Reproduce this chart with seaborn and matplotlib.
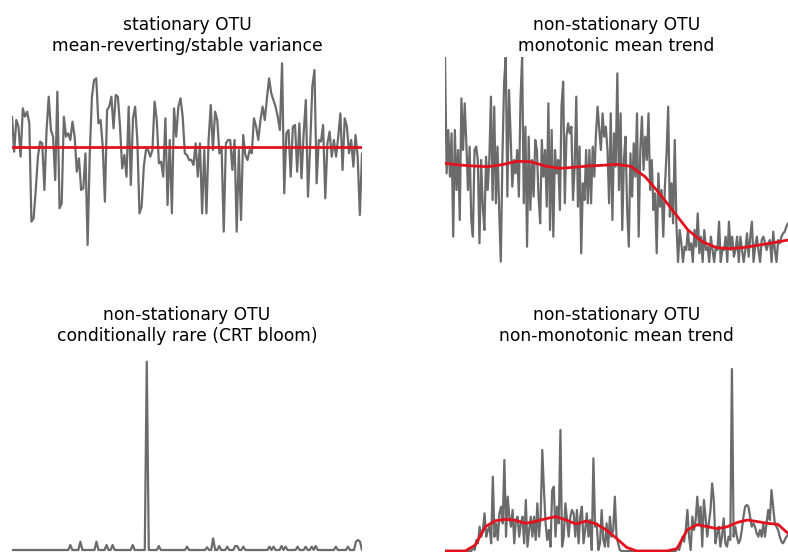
import matplotlib
matplotlib.use("Agg")
import matplotlib.pyplot as plt
import numpy as np
import seaborn as sns

# --- data (arbitrary abundance units) ---
stationary = [0.90, -0.15, 0.80, 0.60, -0.30, 1.15, 0.90, 1.05, 0.70, -2.25,
              -2.15, -1.30, -0.30, 0.15, 0.10, -1.30, 0.50, 1.50, 0.50, 0.30,
              -1.00, 1.65, -1.85, -1.70, 0.90, 0.30, 0.40, 0.20, 0.75, 0.30,
              -0.75, -0.35, -1.30, -1.25, -0.20, -2.95, -0.20, 1.50, 2.00, 2.05,
              0.70, 0.80, 0.00, -1.65, 1.10, 1.20, 1.50, 0.55, 1.55, 1.50,
              0.60, -0.65, -0.25, -0.90, 1.20, -1.15, 0.85, 1.20, 0.20, -2.00,
              -1.80, -0.60, -0.10, -0.10, -0.30, -0.10, 1.35, 0.80, -0.50, -0.45,
              -0.90, 0.85, -1.75, 0.20, -2.00, 1.15, 0.30, 1.20, 1.45, 0.90,
              -0.20, -0.25, -0.40, -0.40, -0.55, 0.10, -0.90, 0.10, -2.00, -0.10,
              -2.00, 0.20, 1.25, -0.10, 1.05, 0.80, -0.20, 0.00, -2.55, 0.10,
              0.20, 0.20, -0.70, 0.20, -2.55, -0.10, -2.20, 0.35, -0.25, -0.40,
              -0.10, -0.20, 0.85, 0.60, 0.20, 0.80, 1.20, 0.80, 1.45, 2.05,
              1.60, 1.40, 1.20, 0.90, 0.50, 2.50, -1.40, 0.40, 0.50, -0.90,
              0.60, 0.65, -0.75, 0.70, -0.95, 0.40, 1.40, -1.50, 0.00, 1.80,
              2.30, -1.10, 0.20, 0.15, 0.65, -1.55, 0.10, 0.45, -0.30, 0.20,
              -0.30, 0.30, 1.00, -0.70, 0.85, 0.60, -0.20, 0.20, -0.60, 0.35,
              -0.30, -2.05, -0.20]
stationary_mean = 0.0

monotonic = [6.16, 2.66, 3.96, 2.56, 3.86, 0.76, 3.96, 2.16, 3.36, 1.26,
             4.91, 3.36, 4.76, 3.56, 2.16, 3.46, 1.26, 0.76, 3.36, 3.46,
             3.06, 0.56, 3.06, 1.66, 0.96, 3.16, 2.16, 3.06, 4.96, 1.86,
             4.66, 1.76, 3.46, 1.56, 0.01, 3.16, 5.36, 6.16, 1.96, 5.16,
             3.76, 2.26, 3.06, 2.66, 3.36, 1.96, 4.86, 6.16, 1.76, 4.06,
             0.46, 3.76, 1.56, 3.06, 1.96, 3.66, 3.36, 1.96, 1.16, 3.66,
             2.56, 3.36, 1.66, 4.76, 0.96, 3.96, 0.76, 3.36, 2.66, 3.06,
             1.56, 4.66, 5.41, 1.76, 3.76, 4.16, 3.86, 4.06, 1.86, 2.86,
             4.96, 1.66, 3.46, 0.26, 2.36, 1.86, 3.36, 1.76, 3.36, 1.76,
             3.46, 2.56, 3.86, 4.66, 3.96, 3.36, 4.46, 3.76, 4.06,
             3.36, 1.76, 4.46, 1.26, 3.86, 2.86, 5.66, 2.16, 4.46, 0.96,
             3.06, 3.76, 1.56, 0.46, 3.26, 1.96, 3.56, 2.56, 4.46, 0.76,
             3.36, 4.36, 2.76, 3.76, 3.06, 4.46, 2.16, 3.06, 1.56, 2.06,
             0.26, 2.66, 1.66, 2.16, 0.76, 2.26, 3.26, 4.66, 1.36, 2.36,
             1.16, 3.66, 1.16, 0.00, 0.96, 0.56, 0.00, 0.46, 0.36, 0.96,
             0.36, 0.56, 0.00, 0.96, 0.46, 1.46, 0.26, 0.76, 0.00, 0.96,
             0.36, 0.46, 0.00, 0.76, 0.36, 0.00, 0.46, 0.36, 1.21, 0.00,
             0.36, 0.36, 0.76, 0.00, 1.21, 0.36, 0.76, 0.16, 0.36, 0.76,
             0.00, 0.76, 0.36, 0.00, 0.36, 0.86, 0.16, 0.76, 1.21, 0.00,
             0.46, 0.76, 0.36, 0.00, 0.66, 0.76, 0.56, 0.36, 0.56, 0.66,
             0.00, 0.91, 0.36, 0.00, 0.66, 0.56, 0.76, 0.86, 0.91, 1.06,
             1.16]
monotonic_trend = [2.96, 2.91, 2.88, 2.86, 2.92, 3.02, 3.01, 2.88, 2.81, 2.84,
                   2.88, 2.90, 2.93, 2.87, 2.56, 2.06, 1.51, 0.96, 0.61, 0.43,
                   0.40, 0.44, 0.51, 0.58, 0.66]

rare = [0, 0, 0, 0, 0, 0, 0, 0, 0, 0, 0, 0, 0, 0, 0, 0, 0, 0, 0, 0,
        0, 0, 0, 0, 0, 0, 0, 0, 0, 0.15, 0, 0, 0, 0, 0.25, 0, 0, 0, 0, 0,
        0, 0, 0.25, 0, 0, 0, 0, 0.15, 0, 0, 0.15, 0, 0, 0, 0, 0, 0, 0, 0, 0,
        0.15, 0, 0, 0, 0, 0, 0, 5.65, 0, 0, 0, 0, 0, 0.12, 0, 0, 0, 0, 0, 0,
        0, 0, 0, 0, 0, 0, 0, 0.10, 0, 0, 0, 0, 0, 0, 0, 0, 0, 0.08, 0, 0,
        0.35, 0, 0, 0.12, 0, 0, 0, 0.10, 0, 0, 0, 0.12, 0.12, 0, 0, 0.10, 0, 0, 0, 0,
        0, 0, 0, 0, 0, 0, 0, 0, 0.10, 0, 0.10, 0, 0, 0, 0.12, 0, 0.10, 0, 0, 0,
        0, 0, 0.10, 0, 0, 0, 0.10, 0, 0, 0.10, 0, 0.12, 0, 0, 0, 0, 0, 0, 0, 0,
        0, 0.10, 0, 0, 0, 0, 0, 0.10, 0, 0, 0, 0.25, 0.30, 0.25, 0]

nonmonotonic = [0, 0, 0, 0, 0, 0, 0, 0, 0, 0, 0, 0, 0, 0, 0, 0, 0,
                0.13, 0.03, 0.33, 0.23, 0.73, 0.43, 0.63, 1.13, 0.43, 0.63,
                0.73, 0.23, 2.23, 0.43, 0.83, 0.33, 1.13, 1.33, 0.83, 2.73,
                0.43, 1.63, 1.03, 0.73, 1.23, 0.23, 0.93, 1.03, 0.43, 0.83,
                1.03, 0.23, 1.53, 0.13, 0.63, 1.03, 0.43, 1.03, 0.33, 1.43,
                0.43, 1.03, 3.03, 1.83, 0.83, 0.33, 0.63, 0.13, 1.83, 1.93,
                0.43, 1.33, 0.83, 3.63, 0.13, 0.43, 1.43, 0.93, 0.43, 1.03,
                1.23, 1.13, 0.43, 1.23, 0.23, 1.03, 1.33, 0.23, 0.63, 1.13,
                0.43, 0.93, 0.03, 2.78, 0.73, 0.83, 0.03, 0.23, 1.23, 0.33,
                0.13, 0.83, 0.13,
                1.03, 0.43, 0.63, 1.63, 0.43, 0.23, 0.03,
                0, 0, 0, 0, 0, 0, 0, 0, 0, 0, 0, 0, 0, 0, 0, 0, 0,
                0, 0, 0, 0, 0, 0, 0, 0, 0, 0, 0, 0, 0, 0, 0, 0, 0,
                0.13, 0.03, 0.23, 0.43, 0.28, 0.63, 1.23, 0.43, 0.03, 1.03,
                0.63, 0.93, 1.63, 0.83, 1.33, 0.13, 1.53, 1.03, 0.43, 0.83,
                1.23, 2.03, 1.53, 0.23, 0.53, 0.73, 0.13, 0.43, 0.98, 0.23,
                0.13, 0.43, 0.33, 5.46, 0.43, 0.73, 0.43, 0.23, 0.33, 0.63,
                1.03, 1.33, 1.38, 1.33, 1.03, 0.73, 0.83, 0.73, 0.53, 0.43,
                0.63, 0.43, 0.83, 0.43, 0.83, 1.23, 0.93, 1.83, 1.33, 0.83,
                0.73, 0.63, 0.43, 0.28, 0.23, 0.33, 0.43, 0.48]
nonmonotonic_trend = [0, 0, 0, 0.18, 0.73, 0.91, 0.95, 0.92, 0.83, 0.89,
                      0.97, 1.03, 0.93, 0.81, 0.90, 0.81, 0.63, 0.38, 0.11, 0,
                      0, 0, 0, 0.07, 0.63, 0.79, 0.73, 0.67, 0.73, 0.86,
                      0.93, 0.88, 0.83, 0.80, 0.53]

titles = ["stationary OTU\nmean-reverting/stable variance",
          "non-stationary OTU\nmonotonic mean trend",
          "non-stationary OTU\nconditionally rare (CRT bloom)",
          "non-stationary OTU\nnon-monotonic mean trend"]

GRAY = "#6b6b6b"
RED = "#e3101e"

sns.set_style("white")
plt.rcParams["font.family"] = ["DejaVu Sans"]

W, H = 788, 552
fig = plt.figure(figsize=(W / 100, H / 100), dpi=100)


def px_axes(x0, x1, y0, y1):
    # axes rect given in pixel coords (top-left origin)
    return fig.add_axes([x0 / W, 1 - y1 / H, (x1 - x0) / W, (y1 - y0) / H])


axes = [px_axes(12, 362, 57, 264), px_axes(445, 788, 57, 264),
        px_axes(12, 362, 352, 552), px_axes(445, 788, 352, 552)]
series = [stationary, monotonic, rare, nonmonotonic]
ylims = [(-3.52, 2.69), (-0.06, 6.15), (-0.06, 5.94), (-0.03, 5.97)]
pads = [4.5, 4.5, 8, 8]

for ax, s, title, yl, pad in zip(axes, series, titles, ylims, pads):
    t = np.arange(len(s))
    sns.lineplot(x=t, y=s, ax=ax, color=GRAY, lw=1.6)
    ax.set_xlim(0, len(s) - 1)
    ax.set_ylim(*yl)
    ax.set_title(title, fontsize=12.3, pad=pad, color="black")
    ax.set_axis_off()

axes[0].axhline(stationary_mean, color=RED, lw=2)
for ax, s, tr in [(axes[1], monotonic, monotonic_trend),
                  (axes[3], nonmonotonic, nonmonotonic_trend)]:
    tx = np.linspace(0, len(s) - 1, len(tr))
    sns.lineplot(x=tx, y=tr, ax=ax, color=RED, lw=2)

fig.savefig("out.png", dpi=100)
